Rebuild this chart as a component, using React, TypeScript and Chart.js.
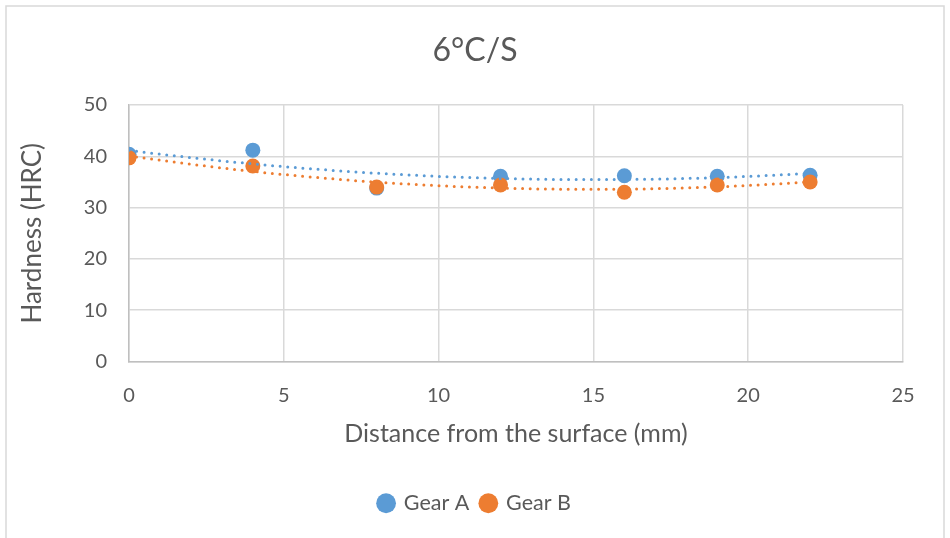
import React, { useEffect, useRef } from "react";
import { Chart, registerables } from "chart.js";

Chart.register(...registerables);

const chartTitle = "6°C/S";
const xAxisTitle = "Distance from the surface (mm)";
const yAxisTitle = "Hardness (HRC)";
const seriesNames = ["Gear A", "Gear B"];
const distances = [0, 4, 8, 12, 16, 19, 22];
const gearA = [40.4, 41.2, 33.8, 36.1, 36.2, 36.1, 36.3];
const gearB = [39.7, 38.1, 34.0, 34.4, 33.0, 34.4, 35.0];
const xTickMin = 0;
const xTickMax = 25;
const xTickStep = 5;
const yTickMin = 0;
const yTickMax = 50;
const yTickStep = 10;

const BLUE = "#5B9BD5";
const ORANGE = "#ED7D31";
const TEXT = "#595959";
const FONT = "Lato, 'Open Sans', sans-serif";

// Least-squares polynomial (order 2) trendline, like Excel's
function quadFit(xs: number[], ys: number[]) {
  let s0 = 0, s1 = 0, s2 = 0, s3 = 0, s4 = 0, t0 = 0, t1 = 0, t2 = 0;
  for (let i = 0; i < xs.length; i++) {
    const x = xs[i], y = ys[i];
    s0 += 1; s1 += x; s2 += x * x; s3 += x * x * x; s4 += x * x * x * x;
    t0 += y; t1 += x * y; t2 += x * x * y;
  }
  const M = [
    [s0, s1, s2, t0],
    [s1, s2, s3, t1],
    [s2, s3, s4, t2],
  ];
  for (let c = 0; c < 3; c++) {
    let p = c;
    for (let r = c + 1; r < 3; r++) if (Math.abs(M[r][c]) > Math.abs(M[p][c])) p = r;
    [M[c], M[p]] = [M[p], M[c]];
    for (let r = 0; r < 3; r++) {
      if (r === c) continue;
      const f = M[r][c] / M[c][c];
      for (let k = c; k < 4; k++) M[r][k] -= f * M[c][k];
    }
  }
  const a = M[0][3] / M[0][0], b = M[1][3] / M[1][1], c2 = M[2][3] / M[2][2];
  return (x: number) => a + b * x + c2 * x * x;
}

function trendPoints(xs: number[], ys: number[]) {
  const f = quadFit(xs, ys);
  const lo = Math.min(...xs), hi = Math.max(...xs);
  const pts: { x: number; y: number }[] = [];
  const n = 88;
  for (let i = 0; i <= n; i++) {
    const x = lo + ((hi - lo) * i) / n;
    pts.push({ x, y: f(x) });
  }
  return pts;
}

const frame = {
  id: "frame",
  beforeDraw(chart: any) {
    const ctx = chart.ctx;
    ctx.save();
    ctx.fillStyle = "#ffffff";
    ctx.fillRect(0, 0, chart.width, chart.height);
    ctx.strokeStyle = "#d9d9d9";
    ctx.lineWidth = 1.5;
    ctx.strokeRect(6, 6, 938, 540);
    ctx.restore();
  },
};

export default function App() {
  const ref = useRef<HTMLCanvasElement>(null);
  useEffect(() => {
    if (!ref.current) return;
    const toXY = (ys: number[]) => distances.map((x, i) => ({ x, y: ys[i] }));
    const chart = new Chart(ref.current, {
      type: "scatter",
      data: {
        datasets: [
          {
            label: seriesNames[0],
            data: toXY(gearA),
            backgroundColor: BLUE,
            borderColor: BLUE,
            pointRadius: 7.5,
            pointBorderWidth: 0,
            pointHoverRadius: 7.5,
            order: 3,
          },
          {
            label: seriesNames[1],
            data: toXY(gearB),
            backgroundColor: ORANGE,
            borderColor: ORANGE,
            pointRadius: 7.5,
            pointBorderWidth: 0,
            pointHoverRadius: 7.5,
            order: 2,
          },
          {
            label: "trendA",
            data: trendPoints(distances, gearA),
            showLine: true,
            borderColor: BLUE,
            backgroundColor: BLUE,
            borderWidth: 3,
            borderDash: [0, 7.6],
            borderCapStyle: "round",
            pointRadius: 0,
            pointHoverRadius: 0,
            order: 1,
          } as any,
          {
            label: "trendB",
            data: trendPoints(distances, gearB),
            showLine: true,
            borderColor: ORANGE,
            backgroundColor: ORANGE,
            borderWidth: 3,
            borderDash: [0, 7.6],
            borderCapStyle: "round",
            pointRadius: 0,
            pointHoverRadius: 0,
            order: 0,
          } as any,
        ],
      },
      options: {
        responsive: false,
        animation: false,
        devicePixelRatio: 1,
        layout: { padding: { left: 5, right: 5, top: 0, bottom: 14 } },
        plugins: {
          tooltip: { enabled: false },
          title: {
            display: true,
            text: chartTitle,
            color: TEXT,
            font: { family: FONT, size: 32, weight: "normal" },
            padding: { top: 31, bottom: 35.6 },
          },
          legend: {
            position: "bottom",
            labels: {
              filter: (item: any) => item.datasetIndex < 2,
              sort: (a: any, b: any) => a.datasetIndex - b.datasetIndex,
              usePointStyle: true,
              pointStyle: "circle",
              boxWidth: 14,
              boxHeight: 14,
              color: TEXT,
              padding: 12,
              font: { family: FONT, size: 21.5 },
            },
          },
        },
        scales: {
          x: {
            type: "linear",
            min: xTickMin,
            max: xTickMax,
            afterFit: (s: any) => { s.height = 119; },
            ticks: {
              stepSize: xTickStep,
              color: TEXT,
              padding: 22,
              font: { family: FONT, size: 20 },
            },
            grid: { color: "#d9d9d9", lineWidth: 1.5, drawTicks: false },
            border: { color: "#bfbfbf", width: 1.5 },
            title: {
              display: true,
              text: xAxisTitle,
              color: TEXT,
              font: { family: FONT, size: 25 },
              padding: { top: 0, bottom: 32 },
            },
          },
          y: {
            type: "linear",
            min: yTickMin,
            max: yTickMax,
            afterFit: (s: any) => { s.width = 124; },
            ticks: {
              stepSize: yTickStep,
              color: TEXT,
              padding: 22,
              font: { family: FONT, size: 20 },
            },
            grid: { color: "#d9d9d9", lineWidth: 1.5, drawTicks: false },
            border: { color: "#bfbfbf", width: 1.5 },
            title: {
              display: true,
              text: yAxisTitle,
              color: TEXT,
              font: { family: FONT, size: 26 },
              padding: { top: 12, bottom: 0 },
            },
          },
          spacer: {
            type: "linear",
            position: "right",
            display: true,
            afterFit: (s: any) => { s.width = 42; },
            ticks: { display: false },
            grid: { display: false, drawTicks: false },
            border: { display: false },
            title: { display: false },
          },
        },
      } as any,
      plugins: [frame],
    });
    return () => chart.destroy();
  }, []);
  return (
    <div style={{ position: "absolute", left: 0, top: 0, width: 950, height: 538 }}>
      <canvas ref={ref} width={950} height={538} />
    </div>
  );
}
